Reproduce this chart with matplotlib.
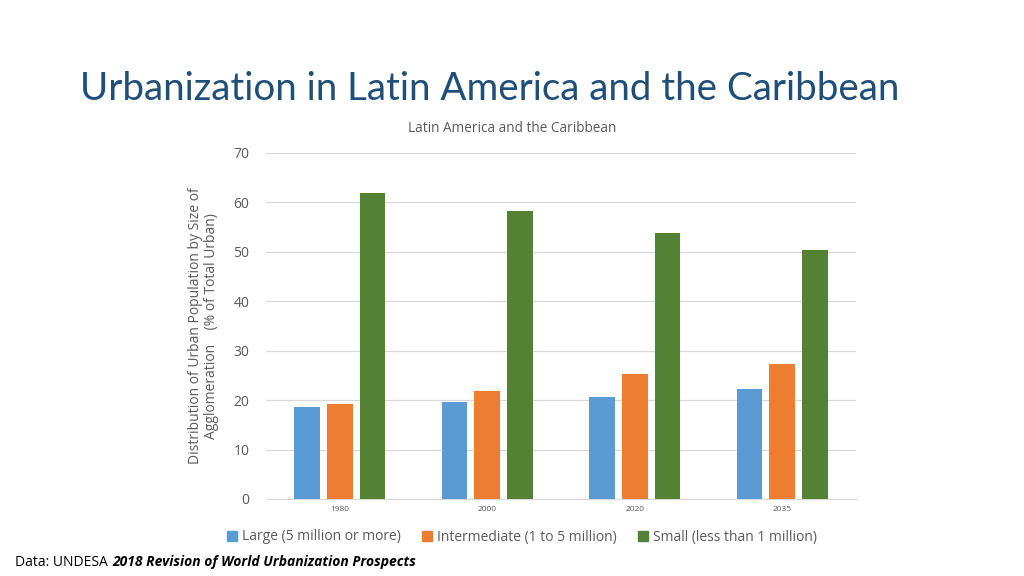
import numpy as np
import matplotlib
matplotlib.use("Agg")
import matplotlib.pyplot as plt
from matplotlib.patches import Patch

plt.rcParams['font.family'] = ['Open Sans', 'DejaVu Sans']

years = ["1980", "2000", "2020", "2035"]
series_names = ["Large (5 million or more)",
                "Intermediate (1 to 5 million)",
                "Small (less than 1 million)"]
large = [18.6, 19.7, 20.7, 22.2]
intermediate = [19.3, 21.9, 25.3, 27.4]
small = [62.0, 58.3, 53.9, 50.3]
colors = ["#5B9BD5", "#ED7D31", "#548235"]

W, H = 1024, 576
fig = plt.figure(figsize=(W / 100, H / 100), dpi=100)

# plot area in pixels: x 266..856, y 153..499
ax = fig.add_axes([266 / W, 1 - 499 / H, 590 / W, 346 / H])

x = np.arange(len(years))
width = 0.174
step = 0.222
for i, vals in enumerate([large, intermediate, small]):
    ax.bar(x + (i - 1) * step, vals, width, color=colors[i], zorder=3)

ax.set_xlim(-0.5, len(years) - 0.5)
ax.set_ylim(0, 70)
ax.set_yticks(range(0, 71, 10))
ax.set_xticks(x)
ax.set_xticklabels(years, fontsize=6, color="#595959")
ax.tick_params(axis='y', labelsize=10, labelcolor="#595959", length=0, pad=12)
ax.tick_params(axis='x', length=0, pad=5)
ax.grid(axis='y', color="#D9D9D9", linewidth=0.9, zorder=0)
for s in ["top", "right", "left"]:
    ax.spines[s].set_visible(False)
ax.spines["bottom"].set_color("#D9D9D9")

ax.set_ylabel("Distribution of Urban Population by Size of\nAgglomeration    (% of Total Urban)",
              fontsize=10, color="#595959", labelpad=10, linespacing=1.1)

fig.text(80 / W, 1 - 100 / H, "Urbanization in Latin America and the Caribbean",
         fontsize=27.7, color="#1F4E79", ha="left", va="baseline",
         family=["Lato", "DejaVu Sans"])
fig.text(512 / W, 1 - 128 / H, "Latin America and the Caribbean",
         fontsize=9.8, color="#595959", ha="center", va="center")

handles = [Patch(color=c) for c in colors]
fig.legend(handles, series_names, loc="center", bbox_to_anchor=(522 / W, 1 - 537 / H),
           ncol=3, frameon=False, fontsize=10, handlelength=0.7, handleheight=0.7,
           handletextpad=0.4, columnspacing=1.5, labelcolor="#595959")

fig.text(15 / W, 1 - 562 / H, "Data: UNDESA ", fontsize=10, color="black",
         ha="left", va="center")
fig.text(112 / W, 1 - 562 / H, "2018 Revision of World Urbanization Prospects",
         fontsize=10, color="black", ha="left", va="center",
         fontweight="bold", fontstyle="italic")

fig.savefig("out.png", dpi=100)
